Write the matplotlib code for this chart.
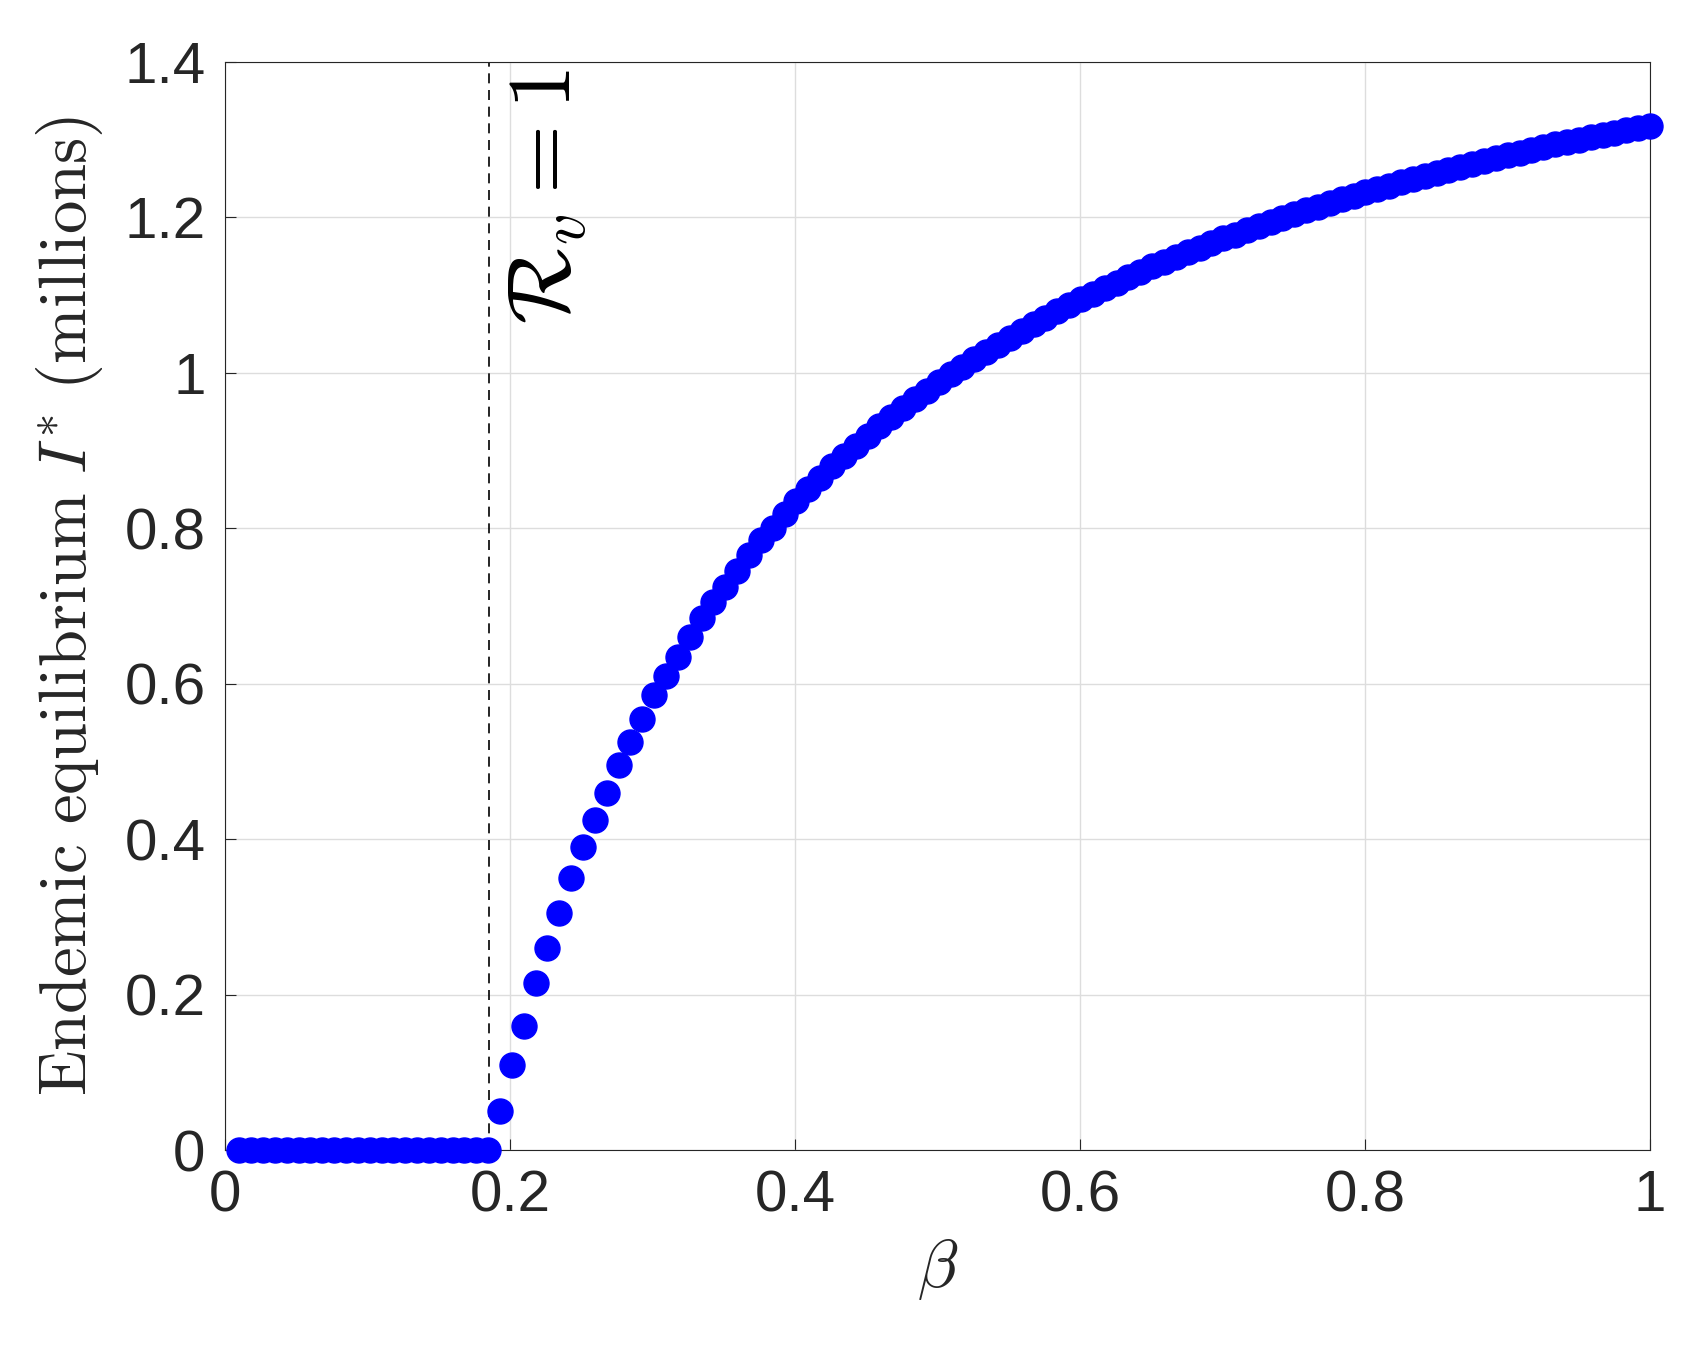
import numpy as np
from matplotlib import pyplot as plt

plt.rcParams['mathtext.fontset'] = 'cm'
plt.rcParams['font.family'] = ['Liberation Sans', 'DejaVu Sans']

# beta grid: 120 evenly spaced values from 0.01 to 1
beta = np.linspace(0.01, 1.0, 120)
endemic = [0.0] * 22 + [
    0.05, 0.11, 0.16, 0.215, 0.26, 0.305, 0.35, 0.39, 0.425, 0.46,
    0.495, 0.525, 0.555, 0.585, 0.61, 0.635, 0.66, 0.685, 0.705, 0.725,
    0.745, 0.765, 0.785, 0.80, 0.818, 0.835, 0.85, 0.865, 0.88, 0.893,
    0.906, 0.919, 0.931, 0.943, 0.955, 0.966, 0.977, 0.988, 0.998, 1.008,
    1.018, 1.027, 1.036, 1.045, 1.054, 1.063, 1.071, 1.079, 1.087, 1.095,
    1.102, 1.109, 1.116, 1.123, 1.130, 1.137, 1.143, 1.149, 1.155, 1.161,
    1.167, 1.173, 1.178, 1.184, 1.189, 1.194, 1.199, 1.204, 1.209, 1.214,
    1.219, 1.224, 1.228, 1.233, 1.237, 1.241, 1.245, 1.249, 1.253, 1.257,
    1.261, 1.265, 1.269, 1.273, 1.276, 1.280, 1.283, 1.287, 1.290, 1.294,
    1.297, 1.300, 1.303, 1.306, 1.309, 1.312, 1.315, 1.318,
]
threshold = 0.185

fig = plt.figure(figsize=(16.93, 13.5), dpi=100)
ax = fig.add_axes([225 / 1693, 1 - 1150 / 1350, (1650 - 225) / 1693, (1150 - 62) / 1350])

ax.plot(beta, endemic, 'o', color='#0000ff', markersize=18, clip_on=False, zorder=3)
ax.axvline(threshold, color='black', linestyle=(0, (6, 4)), linewidth=1.2)
ax.text(threshold + 0.012, 1.39, r'$\mathcal{R}_v = 1$', rotation=90, fontsize=64,
        va='top', ha='left')

ax.set_xlim(0, 1)
ax.set_ylim(0, 1.4)
ax.set_xticks([0, 0.2, 0.4, 0.6, 0.8, 1])
ax.set_xticklabels(['0', '0.2', '0.4', '0.6', '0.8', '1'])
ax.set_yticks([0, 0.2, 0.4, 0.6, 0.8, 1, 1.2, 1.4])
ax.set_yticklabels(['0', '0.2', '0.4', '0.6', '0.8', '1', '1.2', '1.4'])
ax.tick_params(labelsize=42, colors='#262626', direction='in', length=8, pad=14)
ax.grid(True, color='#dddddd', linewidth=1)
ax.set_axisbelow(True)
for spine in ax.spines.values():
    spine.set_color('#262626')

ax.set_xlabel(r'$\beta$', fontsize=48, color='#262626', labelpad=10)
ax.set_ylabel(r'$\mathrm{Endemic\ equilibrium}\ I^{*}\ \mathrm{(millions)}$', fontsize=48,
              color='#262626', labelpad=14)

fig.savefig('out.png', dpi=100)
